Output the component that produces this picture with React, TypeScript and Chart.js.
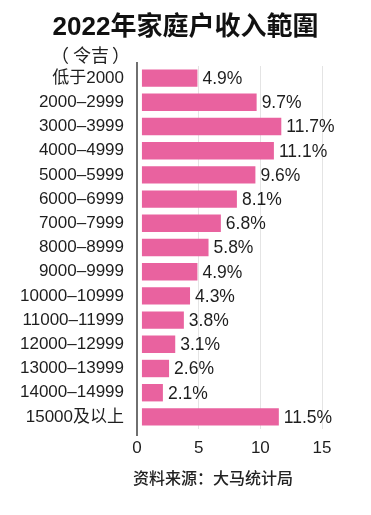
import React, { useEffect, useRef } from "react";
import { Chart, registerables } from "chart.js";

Chart.register(...registerables);

const TITLE = "2022年家庭户收入範圍";
const UNIT = "（令吉）";
const SOURCE = "资料来源：大马统计局";

const CATEGORIES = [
  "低于2000",
  "2000–2999",
  "3000–3999",
  "4000–4999",
  "5000–5999",
  "6000–6999",
  "7000–7999",
  "8000–8999",
  "9000–9999",
  "10000–10999",
  "11000–11999",
  "12000–12999",
  "13000–13999",
  "14000–14999",
  "15000及以上",
];
const VALUES = [4.9, 9.7, 11.7, 11.1, 9.6, 8.1, 6.8, 5.8, 4.9, 4.3, 3.8, 3.1, 2.6, 2.1, 11.5];
const X_TICKS = [0, 5, 10, 15];
const BAR_START = 0.4;

const FONT = "'Liberation Sans', 'Noto Sans CJK SC', Arial, sans-serif";
const BAR_COLOR = "#E9629F";
const TEXT_COLOR = "#1e1e1e";

const valueLabels = {
  id: "valueLabels",
  afterDatasetsDraw(chart: any) {
    const ctx = chart.ctx;
    const meta = chart.getDatasetMeta(0);
    ctx.save();
    ctx.font = `17.5px ${FONT}`;
    ctx.fillStyle = TEXT_COLOR;
    ctx.textAlign = "left";
    ctx.textBaseline = "middle";
    meta.data.forEach((el: any, i: number) => {
      ctx.fillText(`${VALUES[i].toFixed(1)}%`, el.x + 5, el.y + 1);
    });
    ctx.restore();
  },
};

const axisLine = {
  id: "axisLine",
  afterDatasetsDraw(chart: any) {
    const { ctx, chartArea } = chart;
    ctx.save();
    ctx.strokeStyle = "#333";
    ctx.lineWidth = 1.4;
    ctx.beginPath();
    ctx.moveTo(chartArea.left, chartArea.top - 4);
    ctx.lineTo(chartArea.left, chartArea.bottom + 7);
    ctx.stroke();
    ctx.restore();
  },
};

export default function App() {
  const ref = useRef<HTMLCanvasElement | null>(null);

  useEffect(() => {
    if (!ref.current) return;
    const chart = new Chart(ref.current, {
      type: "bar",
      data: {
        labels: CATEGORIES,
        datasets: [
          {
            data: VALUES.map((v) => [BAR_START, v]) as any,
            backgroundColor: BAR_COLOR,
            borderWidth: 0,
            barPercentage: 0.72,
            categoryPercentage: 1,
          },
        ],
      },
      options: {
        indexAxis: "y",
        animation: false,
        responsive: true,
        maintainAspectRatio: false,
        layout: { padding: { top: 66, right: 49, bottom: 56, left: 0 } },
        plugins: {
          legend: { display: false },
          tooltip: { enabled: false },
        },
        scales: {
          x: {
            min: 0,
            max: 15,
            afterBuildTicks: (scale: any) => {
              scale.ticks = X_TICKS.map((v) => ({ value: v }));
            },
            afterFit: (scale: any) => {
              scale.height = 30;
            },
            grid: {
              color: (c: any) => (c.index === 0 ? "rgba(0,0,0,0)" : "#e4e4e4"),
              lineWidth: 1,
              drawTicks: false,
            },
            border: { display: false },
            ticks: {
              padding: 9,
              color: TEXT_COLOR,
              font: { family: FONT, size: 17 },
            },
          },
          y: {
            afterFit: (scale: any) => {
              scale.width = 137;
            },
            grid: { display: false, drawTicks: false },
            border: { display: false },
            ticks: {
              padding: 13,
              color: TEXT_COLOR,
              font: { family: FONT, size: 17 },
              autoSkip: false,
            },
          },
        },
      },
      plugins: [valueLabels, axisLine],
    });
    return () => chart.destroy();
  }, []);

  return (
    <div
      style={{
        position: "absolute",
        left: 0,
        top: 0,
        width: 371,
        height: 515,
        background: "#fff",
        fontFamily: FONT,
        color: TEXT_COLOR,
      }}
    >
      <canvas ref={ref} style={{ position: "absolute", left: 0, top: 0 }} />
      <div
        style={{
          position: "absolute",
          left: 0,
          width: 371,
          top: 9,
          textAlign: "center",
          fontWeight: "bold",
          fontSize: 26,
          lineHeight: "34px",
          color: "#111",
          fontFamily: "'Liberation Sans', 'Noto Sans CJK SC', sans-serif",
        }}
      >
        {TITLE}
      </div>
      <div
        style={{
          position: "absolute",
          left: 51,
          top: 43,
          fontSize: 18,
          lineHeight: "22px",
          whiteSpace: "nowrap",
          color: TEXT_COLOR,
          fontFamily: "'Noto Sans CJK SC', sans-serif",
        }}
      >
        <span style={{ marginRight: 4 }}>{UNIT.slice(0, 1)}</span>
        {UNIT.slice(1, -1)}
        <span style={{ marginLeft: 3 }}>{UNIT.slice(-1)}</span>
      </div>
      <div
        style={{
          position: "absolute",
          left: 133,
          top: 466,
          fontSize: 16,
          lineHeight: "22px",
          fontWeight: 500,
          color: "#222",
          fontFamily: "'Noto Sans CJK SC', sans-serif",
        }}
      >
        {SOURCE}
      </div>
    </div>
  );
}
